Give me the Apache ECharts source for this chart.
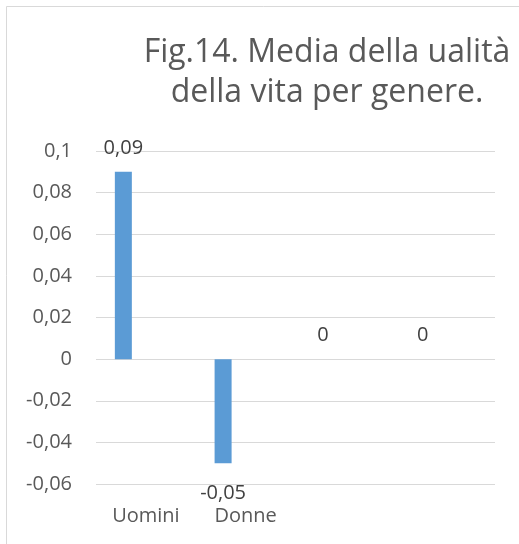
<!DOCTYPE html>
<html>
<head>
<meta charset="utf-8">
<script src="https://cdn.jsdelivr.net/npm/echarts@6/dist/echarts.min.js"></script>
<style>
html,body{margin:0;padding:0;background:#fff;}
#chart{width:519px;height:544px;}
</style>
</head>
<body>
<div id="chart"></div>
<script>
const titleText = 'Fig.14. Media della ualità\ndella vita per genere.';
const categories = ['Uomini', 'Donne', '', ''];
const values = [0.09, -0.05, 0, 0];
const yMin = -0.06;
const yMax = 0.1;
const yStep = 0.02;

function fmt(v) {
  return String(+(+v).toFixed(2)).replace('.', ',');
}

const FONT = '"Open Sans", "DejaVu Sans", sans-serif';

const chart = echarts.init(document.getElementById('chart'), null, {renderer: 'canvas'});
chart.setOption({
  animation: false,
  backgroundColor: '#ffffff',
  graphic: [
    {
      type: 'rect', z: -10, silent: true,
      shape: {x: 6.5, y: 6.5, width: 700, height: 700},
      style: {fill: '#ffffff', stroke: '#d9d9d9', lineWidth: 1}
    },
    {
      type: 'text', silent: true,
      x: 327, y: 33,
      style: {
        text: titleText,
        font: '32px ' + FONT,
        fill: '#595959',
        align: 'center',
        verticalAlign: 'top',
        lineHeight: 40
      }
    }
  ],
  grid: {left: 96, right: 24, top: 151, bottom: 60, outerBoundsMode: 'none', containLabel: false},
  xAxis: {
    type: 'category',
    data: categories,
    position: 'bottom',
    axisLine: {show: false, onZero: false},
    axisTick: {show: false},
    splitLine: {show: false},
    axisLabel: {margin: 22, fontSize: 20, fontFamily: FONT, color: '#595959', interval: 0}
  },
  yAxis: {
    type: 'value',
    min: yMin, max: yMax, interval: yStep,
    axisLine: {show: false},
    axisTick: {show: false},
    splitLine: {show: true, lineStyle: {color: '#d9d9d9', width: 1}},
    axisLabel: {margin: 24, fontSize: 20, fontFamily: FONT, color: '#595959', formatter: fmt}
  },
  series: [
    {
      type: 'bar',
      barWidth: 17,
      barGap: '165%',
      itemStyle: {color: '#5b9bd5'},
      label: {
        show: true, position: 'top', distance: 14,
        fontSize: 20, fontFamily: FONT, color: '#404040',
        formatter: p => fmt(p.value)
      },
      data: values.map(v => v < 0 ? {value: v, label: {position: 'bottom', distance: 20}} : v)
    },
    {
      type: 'bar',
      barWidth: 17,
      data: values.map(() => null)
    }
  ]
});
</script>
</body>
</html>
